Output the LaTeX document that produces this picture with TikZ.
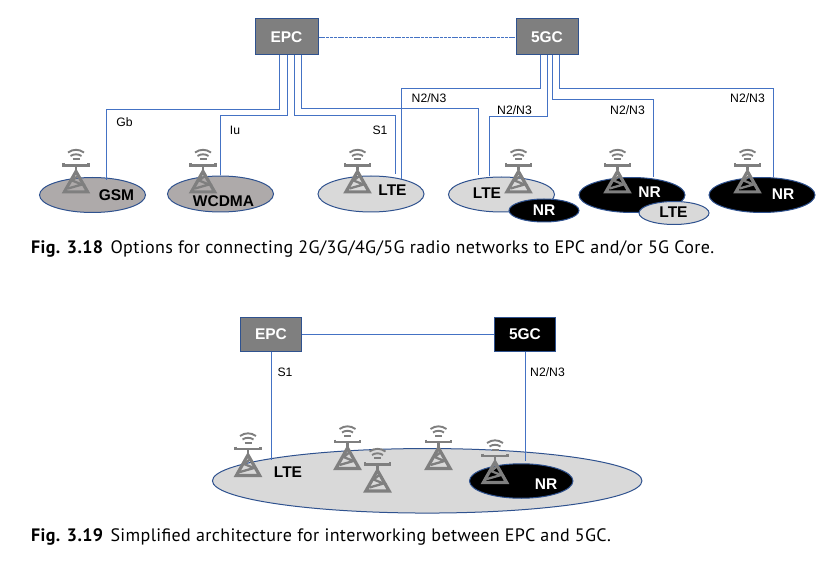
\documentclass[tikz,border=0pt]{standalone}
\usepackage{fontspec}
\setmainfont{Liberation Sans}
\newfontfamily\capfont[LetterSpace=2.1]{PT Sans}
\usepackage{xcolor}
\usepackage{tikz}
\usetikzlibrary{positioning, shapes.geometric}
\definecolor{linkblue}{HTML}{4472C4}
\definecolor{rimblue}{HTML}{2F528F}
\definecolor{towergray}{HTML}{7F7F7F}
\definecolor{darkcell}{HTML}{AEAAAA}
\definecolor{lightcell}{HTML}{D9D9D9}
\tikzset{
  tower/.pic={
    \draw[towergray,line width=3.2pt,line join=miter] (-11.6,-1.6) -- (0,-22) -- (11.6,-1.6) -- cycle;
    \draw[towergray,line width=2.3pt] (-8,-5) -- (6,-9) -- (-4,-13) -- (2.5,-18);
    \draw[towergray,line width=2.3pt] (0,-28) -- (0,-23) (-12.5,-30.5) -- (-12.5,-28) -- (12.5,-28) -- (12.5,-30.5);
    \draw[towergray,line width=1.9pt] (-8,-41) .. controls (-3,-44.6) and (3,-44.6) .. (8,-41);
    \draw[towergray,line width=1.9pt] (-5.5,-37.5) .. controls (-2,-39.8) and (2,-39.8) .. (5.5,-37.5);
    \draw[towergray,line width=1.9pt] (-3.5,-34.3) -- (3.5,-34.3);
  }
}
\begin{document}
\begin{tikzpicture}[x=1pt,y=-1pt,
    corebox/.style={rectangle,draw=rimblue,line width=1pt,inner sep=0pt,text=white,font=\bfseries\fontsize{15.5}{15.5}\selectfont},
    cell/.style={ellipse,draw=rimblue,line width=1pt,inner sep=0pt,minimum width=#1},
    cell/.default=106pt,
    link/.style={draw=linkblue,line width=1pt},
    iface/.style={inner sep=0pt,font=\fontsize{12.2}{12.2}\selectfont},
    rat/.style={inner sep=0pt,font=\bfseries\fontsize{15.5}{15.5}\selectfont},
    figcap/.style={anchor=west,inner sep=0pt,font=\capfont\fontsize{18}{18}\selectfont}
  ]
  \useasboundingbox (0,0) rectangle (835,569);

  % upper figure
  \node[corebox,fill=towergray,minimum width=63pt,minimum height=36pt] (epc) at (286.5,37) {EPC};
  \node[corebox,fill=towergray,minimum width=62pt,minimum height=36pt] (fgc) at (547,37) {5GC};
  \draw[link,line width=0.7pt,dash pattern=on 3pt off 0.8pt] (epc) -- (fgc);

  \node[cell,fill=darkcell,minimum height=35pt] (gsm) at (92.5,195) {};
  \node[cell,fill=darkcell,minimum height=36pt] (wcdma) at (220.5,194) {};
  \node[cell,fill=lightcell,minimum height=36pt] (lte) at (371,194) {};
  \node[cell,fill=lightcell,minimum height=35pt] (ltea) at (501.5,194.5) {};
  \node[cell,fill=black,minimum height=35pt] (nra) at (632,195) {};
  \node[cell,fill=black,minimum height=35pt] (nrb) at (762,195) {};

  \draw[link] ([xshift=-7pt]epc.south) -- ++(0,54) -| ([xshift=13.5pt,yshift=-3.5pt]gsm.north);
  \draw[link] ([xshift=1pt]epc.south) -- ++(0,60.5) -| ([xshift=-0.5pt]wcdma.north);
  \draw[link] ([xshift=8pt]epc.south) -- ++(0,60.5) -| ([xshift=24.5pt,yshift=1pt]lte.north);
  \draw[link] ([xshift=15pt]epc.south) -- ++(0,53.5) -| ([xshift=-23pt,yshift=1pt]ltea.north);
  \draw[link] ([xshift=-6.5pt]fgc.south) -- ++(0,33.5) -| ([xshift=30pt,yshift=-4pt]lte.north);
  \draw[link] ([xshift=0.5pt]fgc.south) -- ++(0,61.5) -| ([xshift=-12.5pt]ltea.north);
  \draw[link] ([xshift=5.5pt]fgc.south) -- ++(0,44.5) -| ([xshift=21pt]nra.north);
  \draw[link] ([xshift=12.5pt]fgc.south) -- ++(0,33.5) -| ([xshift=11pt]nrb.north);

  \foreach\name/\px/\py in {ta/76/193.5,tb/203/193.5,tc/357.5/193.5,td/518.5/193.5,te/617.5/193.5,tf/747.5/193.5}{
    \pic (\name) at (\px,\py) {tower};
  }

  \node[cell=70pt,fill=black,minimum height=23pt] (nrs) at (544,210.5) {};
  \node[cell=70pt,fill=lightcell,minimum height=23pt] (ltes) at (674,213) {};

  \node[rat] (gsmlbl) at (116.5,195) {GSM};
  \node[rat] (wcdmalbl) at (223.5,201) {WCDMA};
  \node[rat] (ltelbl) at (392.5,190.5) {LTE};
  \node[rat] (ltealbl) at (487,193) {LTE};
  \node[rat,text=white] (nrslbl) at (544,210.5) {NR};
  \node[rat,text=white] (nralbl) at (649.5,192) {NR};
  \node[rat] (lteslbl) at (673.5,212) {LTE};
  \node[rat,text=white] (nrblbl) at (783,194) {NR};

  \node[iface] (gb) at (124.5,122) {Gb};
  \node[iface] (iu) at (235,130.5) {Iu};
  \node[iface] (sa) at (380,130.5) {S1};
  \node[iface] (na) at (429,98) {N2/N3};
  \node[iface] (nb) at (514.5,110) {N2/N3};
  \node[iface] (nc) at (627.5,110) {N2/N3};
  \node[iface] (nd) at (747.5,98) {N2/N3};

  \node[figcap] (capa) at (31,249) {\textbf{Fig. 3.18}\hspace{7pt}Options for connecting 2G/3G/4G/5G radio networks to EPC and/or 5G Core.};

  % lower figure
  \node[corebox,fill=towergray,minimum width=61pt,minimum height=34pt] (epcl) at (271,334) {EPC};
  \node[corebox,fill=black,minimum width=61pt,minimum height=34pt] (fgcl) at (525,334) {5GC};
  \draw[link] (epcl) -- (fgcl);

  \node[cell=429.5pt,fill=lightcell,minimum height=64.5pt] (area) at (427.2,480.8) {};
  \node[cell=103.5pt,fill=black,minimum height=34.5pt] (nrl) at (521.2,481) {};

  \coordinate (slend) at (271,460);
  \coordinate (nlend) at (525,460.5);
  \draw[link] (epcl.south) -- (slend);
  \draw[link] (fgcl.south) -- (nlend);

  \foreach\name/\px/\py in {tg/248/477,th/347.5/470,ti/377.5/492.5,tj/438.5/470,tk/495/484}{
    \pic (\name) at (\px,\py) {tower};
  }

  \node[rat] (ltell) at (288,472.5) {LTE};
  \node[rat,text=white] (nrll) at (546,484) {NR};
  \node[iface] (sb) at (285,372) {S1};
  \node[iface] (ne) at (547.5,372) {N2/N3};

  \node[figcap] (capb) at (31,537) {\textbf{Fig. 3.19}\hspace{7pt}Simplified architecture for interworking between EPC and 5GC.};
\end{tikzpicture}
\end{document}
